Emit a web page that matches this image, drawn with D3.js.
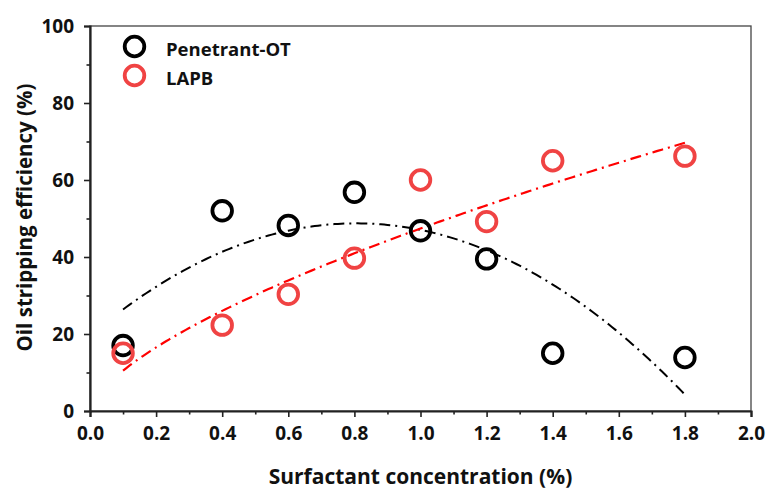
<!DOCTYPE html>
<html>
<head>
<meta charset="utf-8">
<script src="https://cdn.jsdelivr.net/npm/d3@7"></script>
<style>
  body { margin: 0; background: #fff; }
  svg { display: block; font-family: "Open Sans", Lato, sans-serif; font-weight: bold; }
</style>
</head>
<body>
<svg id="chart" width="769" height="490"></svg>
<script>
// Surfactant concentration (%)
const concentration = [0.1, 0.4, 0.6, 0.8, 1.0, 1.2, 1.4, 1.8];
// Oil stripping efficiency (%)
const penetrantOT = [17, 52, 48.2, 56.8, 46.8, 39.5, 15, 13.9];
const lapb = [15, 22.3, 30.3, 39.7, 60, 49.2, 65, 66.2];
const seriesNames = ["Penetrant-OT", "LAPB"];
// allometric trend for LAPB: y = a * x^b
const lapbFitCoef = [47.4, 0.655];
const fitRange = [0.1, 1.8];
const xTicks = [0.0, 0.2, 0.4, 0.6, 0.8, 1.0, 1.2, 1.4, 1.6, 1.8, 2.0];
const yTicks = [0, 20, 40, 60, 80, 100];

const svg = d3.select("#chart");
const margin = { left: 90, right: 18, top: 26, bottom: 79 };
const W = 769, H = 490;
const x = d3.scaleLinear().domain([0, 2]).range([margin.left, W - margin.right]);
const y = d3.scaleLinear().domain([0, 100]).range([H - margin.bottom, margin.top]);

// least-squares quadratic fit: y = c0 + c1 x + c2 x^2
function polyfit2(xs, ys) {
  const n = xs.length;
  let s = [0, 0, 0, 0, 0], t = [0, 0, 0];
  for (let i = 0; i < n; i++) {
    for (let k = 0; k < 5; k++) s[k] += Math.pow(xs[i], k);
    for (let k = 0; k < 3; k++) t[k] += ys[i] * Math.pow(xs[i], k);
  }
  const A = [[s[0], s[1], s[2], t[0]], [s[1], s[2], s[3], t[1]], [s[2], s[3], s[4], t[2]]];
  for (let i = 0; i < 3; i++) {
    for (let j = i + 1; j < 3; j++) {
      const f = A[j][i] / A[i][i];
      for (let k = i; k < 4; k++) A[j][k] -= f * A[i][k];
    }
  }
  const c = [0, 0, 0];
  for (let i = 2; i >= 0; i--) {
    let v = A[i][3];
    for (let k = i + 1; k < 3; k++) v -= A[i][k] * c[k];
    c[i] = v / A[i][i];
  }
  return v => c[0] + c[1] * v + c[2] * v * v;
}

// frame (top and right edges)
svg.append("rect")
  .attr("x", x(0)).attr("y", y(100))
  .attr("width", x(2) - x(0)).attr("height", y(0) - y(100))
  .attr("fill", "none").attr("stroke", "#444").attr("stroke-width", 1.3);

// x axis
svg.append("g").attr("transform", `translate(0,${y(0)})`)
  .call(d3.axisBottom(x).tickValues(xTicks).tickFormat(d3.format(".1f")).tickSizeOuter(0).tickSize(6).tickPadding(10));
svg.append("g").attr("transform", `translate(0,${y(0)})`)
  .call(d3.axisBottom(x).tickValues(d3.range(0.1, 2, 0.2)).tickFormat("").tickSizeOuter(0).tickSize(3.5))
  .call(g => g.select(".domain").remove());

// y axis
svg.append("g").attr("transform", `translate(${x(0)},0)`)
  .call(d3.axisLeft(y).tickValues(yTicks).tickSizeOuter(0).tickSize(6).tickPadding(10));
svg.append("g").attr("transform", `translate(${x(0)},0)`)
  .call(d3.axisLeft(y).tickValues(d3.range(10, 100, 20)).tickFormat("").tickSizeOuter(0).tickSize(3.5))
  .call(g => g.select(".domain").remove());

svg.selectAll(".domain").attr("stroke", "#222").attr("stroke-width", 2.2);
svg.selectAll(".tick line").attr("stroke", "#222").attr("stroke-width", 1.6);
svg.selectAll(".tick text").attr("fill", "#111").style("font-size", "19px").style("font-weight", "bold")
  .style("font-family", "'Open Sans', Lato, sans-serif");

// axis titles
svg.append("text").attr("x", (x(0) + x(2)) / 2).attr("y", 484)
  .attr("text-anchor", "middle").style("font-size", "21px").attr("fill", "#111")
  .text("Surfactant concentration (%)");
svg.append("text").attr("transform", `translate(32,${(y(0) + y(100)) / 2 - 1}) rotate(-90)`)
  .attr("text-anchor", "middle").style("font-size", "20.5px").attr("fill", "#111")
  .text("Oil stripping efficiency (%)");

// fitted trend lines
const fitBlack = polyfit2(concentration, penetrantOT);
const fitRed = v => lapbFitCoef[0] * Math.pow(v, lapbFitCoef[1]);
const xs = d3.range(fitRange[0], fitRange[1] + 1e-6, 0.01);
const line = f => d3.line().x(d => x(d)).y(d => y(f(d)))(xs);
svg.append("path").attr("d", line(fitBlack)).attr("fill", "none")
  .attr("stroke", "#000").attr("stroke-width", 2).attr("stroke-dasharray", "11 5 2 5");
svg.append("path").attr("d", line(fitRed)).attr("fill", "none")
  .attr("stroke", "#ff0000").attr("stroke-width", 2.2).attr("stroke-dasharray", "11 5 2 5");

// data markers
const colors = ["#000", "#f04343"];
[penetrantOT, lapb].forEach((vals, si) => {
  svg.append("g").selectAll("circle").data(vals).join("circle")
    .attr("cx", (d, i) => x(concentration[i])).attr("cy", d => y(d)).attr("r", 9.8)
    .attr("fill", "none").attr("stroke", colors[si]).attr("stroke-width", 3.8);
});

// legend
seriesNames.forEach((name, i) => {
  const ly = 46.5 + i * 29;
  svg.append("circle").attr("cx", 134.5).attr("cy", ly).attr("r", 9.8)
    .attr("fill", "none").attr("stroke", colors[i]).attr("stroke-width", 3.8);
  svg.append("text").attr("x", 166).attr("y", ly + 9).style("font-size", "18.5px").attr("fill", "#111").text(name);
});
</script>
</body>
</html>
